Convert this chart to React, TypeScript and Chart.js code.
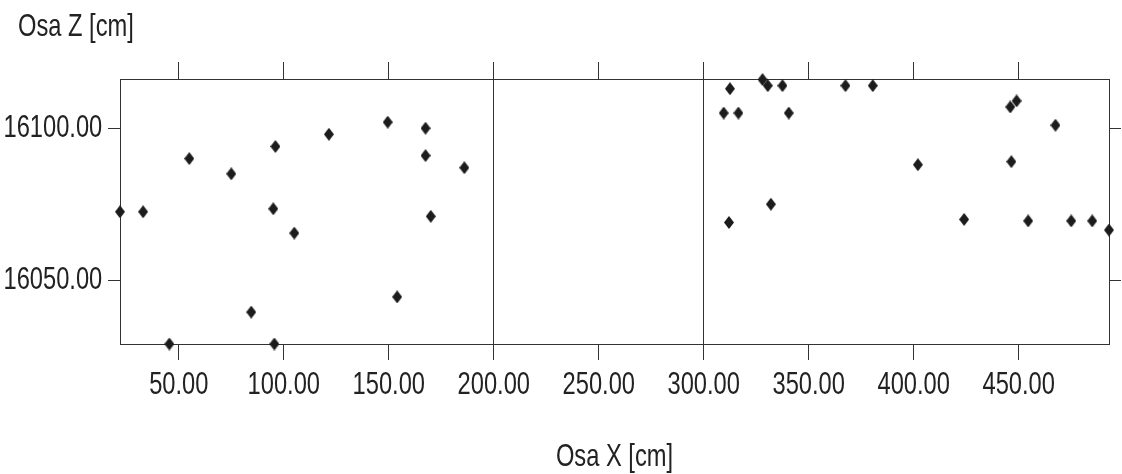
import { useEffect, useRef } from 'react';
import { Chart, registerables } from 'chart.js';

Chart.register(...registerables);

// Osa X [cm]
const xValues = [
  22, 33, 55, 75, 96, 95, 105, 84.5, 45.5, 95.5,
  121.5, 149.5, 154, 167.5, 167.5, 186, 170,
  312.5, 309.5, 316.5, 312, 328, 330.5, 337.5, 340.5, 367.5, 380.5,
  402, 332, 424, 446, 449, 467.5, 446.5, 454.5, 475, 485, 493,
];
// Osa Z [cm]
const zValues = [
  16072.5, 16072.5, 16090, 16085, 16094, 16073.5, 16065.5, 16039.5, 16029, 16029,
  16098, 16102, 16044.5, 16100, 16091, 16087, 16071,
  16113, 16105, 16105, 16069, 16116, 16114, 16114, 16105, 16114, 16114,
  16088, 16075, 16070, 16107, 16109, 16101, 16089, 16069.5, 16069.5, 16069.5, 16066.5,
];
const xTickValues = [50, 100, 150, 200, 250, 300, 350, 400, 450];
const zTickValues = [16050, 16100];
const dividerValues = [200, 300];
const xLimits = [22, 493];
const zLimits = [16029, 16116.2];

const FONT = "'Liberation Sans', Arial, sans-serif";
const TEXT_SCALE_X = 0.74; // condensed lettering
const INK = '#222222';
const LINE = '#333333';

function makeDiamond(w: number, h: number, color: string) {
  const c = document.createElement('canvas');
  c.width = w;
  c.height = h;
  const g = c.getContext('2d')!;
  g.fillStyle = color;
  g.beginPath();
  g.moveTo(w / 2, 0);
  g.lineTo(w, h / 2);
  g.lineTo(w / 2, h);
  g.lineTo(0, h / 2);
  g.closePath();
  g.fill();
  return c;
}

const condensedText = {
  id: 'condensedText',
  beforeInit(chart: any) {
    const ctx = chart.ctx;
    if (!ctx || ctx.__condensed) return;
    const orig = ctx.fillText.bind(ctx);
    ctx.fillText = function (text: string, x: number, y: number, maxWidth?: number) {
      ctx.save();
      ctx.translate(x, y);
      ctx.scale(TEXT_SCALE_X, 1);
      if (maxWidth !== undefined) orig(text, 0, 0, maxWidth / TEXT_SCALE_X);
      else orig(text, 0, 0);
      ctx.restore();
    };
    ctx.__condensed = true;
  },
};

export default function App() {
  const ref = useRef<HTMLCanvasElement>(null);

  useEffect(() => {
    if (!ref.current) return;
    const fmt = (v: any) => Number(v).toFixed(2);
    const setTicks = (vals: number[]) => (scale: any) => {
      scale.ticks = vals.map((v) => ({ value: v }));
    };
    const tickFont = { family: FONT, size: 32, weight: 'normal' as const };
    const diamond = makeDiamond(10, 13, '#1c1c1c');

    const chart = new Chart(ref.current, {
      type: 'scatter',
      plugins: [condensedText],
      data: {
        datasets: [
          {
            data: xValues.map((x, i) => ({ x, y: zValues[i] })),
            pointStyle: diamond as any,
            radius: 6,
            clip: false as any,
          },
        ],
      },
      options: {
        animation: false,
        responsive: false,
        devicePixelRatio: 1,
        layout: { padding: { left: 18, right: 0, top: 0, bottom: 0 } },
        plugins: {
          legend: { display: false },
          tooltip: { enabled: false },
          title: {
            display: true,
            text: 'Osa Z [cm]',
            align: 'start',
            color: INK,
            font: { family: FONT, size: 32, weight: 'normal', lineHeight: '34px' },
            padding: { top: 10, bottom: 0 },
          },
        },
        scales: {
          x: {
            type: 'linear',
            position: 'bottom',
            min: xLimits[0],
            max: xLimits[1],
            afterBuildTicks: setTicks(xTickValues),
            afterFit: (s: any) => { s.height = 130; },
            ticks: { callback: fmt, color: INK, font: tickFont, padding: 6, maxRotation: 0, autoSkip: false },
            grid: {
              drawOnChartArea: true,
              color: (ctx: any) => (ctx.tick && dividerValues.includes(ctx.tick.value) ? LINE : 'rgba(0,0,0,0)'),
              tickColor: LINE,
              tickLength: 16,
              lineWidth: 1,
            },
            border: { display: true, color: LINE, width: 1 },
            title: {
              display: true,
              text: 'Osa X [cm]',
              color: INK,
              font: { family: FONT, size: 32, weight: 'normal', lineHeight: '34px' },
              padding: { top: 0, bottom: 0 },
            },
          },
          x2: {
            type: 'linear',
            position: 'top',
            min: xLimits[0],
            max: xLimits[1],
            afterBuildTicks: setTicks(xTickValues),
            afterFit: (s: any) => { s.height = 35; },
            ticks: { display: false },
            grid: { drawOnChartArea: false, tickColor: LINE, color: LINE, tickLength: 17 },
            border: { display: true, color: LINE, width: 1 },
          },
          y: {
            type: 'linear',
            position: 'left',
            min: zLimits[0],
            max: zLimits[1],
            afterBuildTicks: setTicks(zTickValues),
            afterFit: (s: any) => { s.width = 102; },
            // labels placed left of the tick marks (mirror is used only to avoid label clipping at the padded edge)
            ticks: { callback: fmt, color: INK, font: tickFont, mirror: true, padding: -116.5 },
            grid: { drawOnChartArea: false, tickColor: LINE, color: LINE, tickLength: 12 },
            border: { display: true, color: LINE, width: 1 },
          },
          y2: {
            type: 'linear',
            position: 'right',
            min: zLimits[0],
            max: zLimits[1],
            afterBuildTicks: setTicks(zTickValues),
            afterFit: (s: any) => { s.width = 13; },
            ticks: { display: false },
            grid: { drawOnChartArea: false, tickColor: LINE, color: LINE, tickLength: 12 },
            border: { display: true, color: LINE, width: 1 },
          },
        },
      } as any,
    });
    return () => chart.destroy();
  }, []);

  return (
    <div style={{ position: 'fixed', left: 0, top: 0, width: 1122, height: 474, background: '#ffffff' }}>
      <canvas ref={ref} width={1122} height={474} />
    </div>
  );
}
